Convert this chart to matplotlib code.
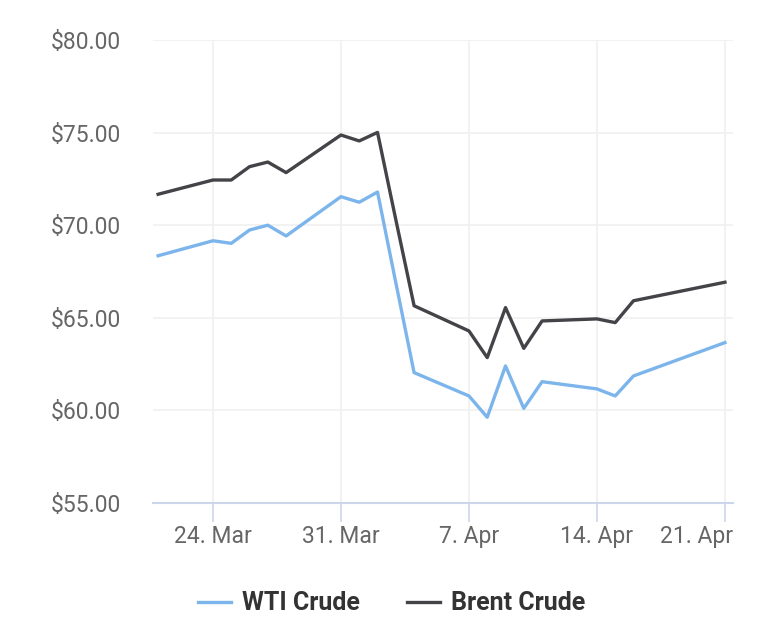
import matplotlib
matplotlib.use("Agg")
import matplotlib.pyplot as plt
import matplotlib.dates as mdates
import matplotlib.transforms as mtransforms

# Kurswerte (USD je Barrel)
dates = ["2025-03-21", "2025-03-24", "2025-03-25", "2025-03-26", "2025-03-27",
         "2025-03-28", "2025-03-31", "2025-04-01", "2025-04-02", "2025-04-03",
         "2025-04-04", "2025-04-07", "2025-04-08", "2025-04-09", "2025-04-10",
         "2025-04-11", "2025-04-14", "2025-04-15", "2025-04-16", "2025-04-21"]
wti = [68.35, 69.16, 69.02, 69.74, 70.00, 69.42, 71.54, 71.24, 71.79, 66.9,
       62.04, 60.78, 59.63, 62.40, 60.11, 61.55, 61.16, 60.78, 61.86, 63.66]
brent = [71.67, 72.44, 72.44, 73.16, 73.41, 72.84, 74.87, 74.55, 75.01, 70.3,
         65.65, 64.29, 62.85, 65.55, 63.35, 64.83, 64.94, 64.74, 65.92, 66.92]

tick_dates = ["2025-03-24", "2025-03-31", "2025-04-07", "2025-04-14", "2025-04-21"]
tick_labels = ["24. Mar", "31. Mar", "7. Apr", "14. Apr", "21. Apr"]
y_ticks = [55, 60, 65, 70, 75, 80]

plt.rcParams['font.family'] = ['Roboto', 'DejaVu Sans']

x = mdates.datestr2num(dates)
xt = mdates.datestr2num(tick_dates)

fig = plt.figure(figsize=(7.83, 6.35), dpi=100)
ax = fig.add_axes([0.1954, 0.2079, 0.7407, 0.7291])

ax.plot(x, wti, color='#7cb5ec', lw=2.4, label='WTI Crude', solid_joinstyle='round')
ax.plot(x, brent, color='#434348', lw=2.4, label='Brent Crude', solid_joinstyle='round')

ax.set_ylim(55, 80)
ax.set_xlim(xt[0] - 3.28, xt[-1] + 0.44)

ax.set_yticks(y_ticks)
ax.set_yticklabels([f"${v:.2f}" for v in y_ticks])
ax.set_xticks(xt)
ax.set_xticklabels(tick_labels)

ax.grid(True, color='#f0f0f0', lw=1.2)
ax.set_axisbelow(True)
for s in ['top', 'right', 'left']:
    ax.spines[s].set_visible(False)
ax.spines['bottom'].set_color('#ccd6eb')
ax.spines['bottom'].set_linewidth(1.5)

ax.tick_params(axis='y', length=0, pad=23, labelsize=16.5, labelcolor='#666666')
ax.tick_params(axis='x', length=14, width=1.2, color='#ccd6eb', pad=2,
               labelsize=16.5, labelcolor='#666666')

# letztes Label rechtsbündig an den Rand schieben
last = ax.get_xticklabels()[-1]
last.set_horizontalalignment('right')
last.set_transform(last.get_transform() + mtransforms.ScaledTranslation(8 / 100, 0, fig.dpi_scale_trans))

fig.legend(loc='center', bbox_to_anchor=(0.5, 0.05), ncol=2, frameon=False,
           handlelength=1.32, columnspacing=1.88, handletextpad=0.44,
           prop={'weight': 'bold', 'size': 18}, labelcolor='#333333')

fig.savefig('out.png', dpi=100)
